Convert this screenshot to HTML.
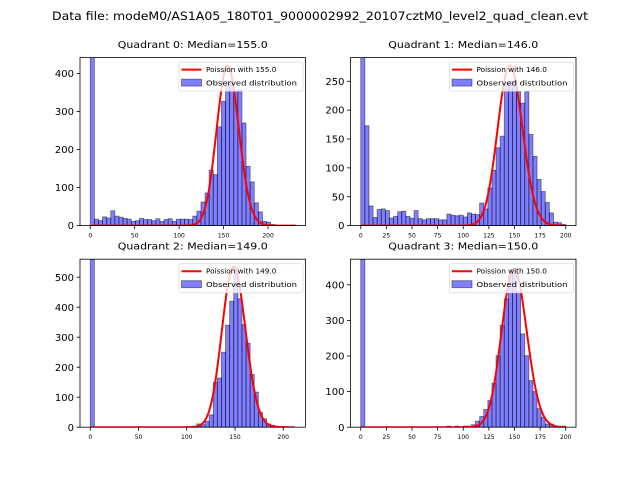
<!DOCTYPE html>
<html><head><meta charset="utf-8"><style>
body{margin:0;background:#fff;}
svg{display:block;font-family:"DejaVu Sans","Liberation Sans",sans-serif;}
</style></head><body>
<svg id="fig" width="640" height="480" xmlns="http://www.w3.org/2000/svg">
<rect width="640" height="480" fill="#fff"/>
<text x="320" y="20" text-anchor="middle" font-size="11.5" textLength="536" lengthAdjust="spacingAndGlyphs">Data file: modeM0/AS1A05_180T01_9000002992_20107cztM0_level2_quad_clean.evt</text>
</svg>
<script>
const quadTitles = ["Quadrant 0: Median=155.0","Quadrant 1: Median=146.0","Quadrant 2: Median=149.0","Quadrant 3: Median=150.0"];
const medians = [155, 146, 149, 150];
const dataMax = [230.6, 200, 212.4, 200];
const yMax = [442, 291, 560, 472];
const yTicks = [[0,100,200,300,400],[0,50,100,150,200,250],[0,100,200,300,400,500],[0,100,200,300,400]];
const xTicks = [[0,50,100,150,200],[0,25,50,75,100,125,150,175,200],[0,50,100,150,200],[0,25,50,75,100,125,150,175,200]];
const curveScale = [13110, 8420, 16370, 13660];
const counts0 = [1500,17,13,23,20,39,25,22,19,17,11,13,19,16,16,13,18,11,16,18,11,17,17,17,16,25,38,62,86,146,134,260,327,380,375,354,357,270,156,115,60,36,11,9,3,1,0,0,0,1];
const counts1 = [1000,173,34,14,28,29,26,13,16,24,25,16,13,26,12,10,12,12,12,10,10,20,18,17,18,15,22,20,19,39,29,65,96,135,155,245,250,250,232,212,232,158,120,80,59,40,22,6,5,2];
const counts2 = [1500,0,0,0,0,0,0,0,0,0,0,0,0,0,0,0,0,0,0,0,0,0,0,0,0,0,11,8,20,41,150,164,250,340,420,530,428,342,280,176,117,50,28,11,6,3,2,0,0,0];
const counts3 = [1500,0,0,0,0,0,0,0,0,0,0,0,0,0,0,0,0,0,0,0,0,3,0,3,0,3,3,7,17,30,50,75,124,201,286,361,428,440,382,262,201,131,100,52,28,9,9,3,0,3];
const allCounts = [counts0, counts1, counts2, counts3];

const NS = "http://www.w3.org/2000/svg";
const fig = document.getElementById('fig');
function mk(tag, attrs, parent){
  const e = document.createElementNS(NS, tag);
  for (const k in attrs) e.setAttribute(k, attrs[k]);
  (parent||fig).appendChild(e); return e;
}
function logPmf(k, lam){
  let lf = 0; for (let i=2;i<=k;i++) lf += Math.log(i);
  return k*Math.log(lam) - lam - lf;
}
const AW = 225.5, AH = 168;
const origins = [[80,57.6],[350.5,57.6],[80,259.2],[350.5,259.2]];
for (let q=0;q<4;q++){
  const [L,T] = origins[q];
  const g = mk('g', {});
  
  
  const span = dataMax[q]*1.1;
  const xs = v => L + (v + dataMax[q]*0.05) * AW / span;
  const ys = v => T + AH - v * AH / yMax[q];
  const clipId = 'clip'+q;
  const cp = mk('clipPath', {id: clipId}, g);
  mk('rect', {x:L, y:T, width:AW, height:AH}, cp);
  const plot = mk('g', {'clip-path': 'url(#'+clipId+')'}, g);
  const c = allCounts[q];
  const bw = dataMax[q] / c.length;
  for (let i=0;i<c.length;i++){
    if (c[i] <= 0) continue;
    const r = mk('rect', {x: xs(i*bw), y: ys(c[i]), width: xs((i+1)*bw)-xs(i*bw), height: ys(0)-ys(c[i]), fill:'rgba(0,0,255,0.5)', stroke:'rgba(0,0,0,0.5)', 'stroke-width':0.8}, plot);
    
    
  }
  let pts = [];
  for (let k=0;k<=Math.round(dataMax[q]);k++){
    pts.push(xs(k).toFixed(2)+','+ys(curveScale[q]*Math.exp(logPmf(k, medians[q]))).toFixed(2));
  }
  const pl = mk('polyline', {points: pts.join(' '), fill:'none', stroke:'#ff0000', 'stroke-width':2}, plot);
  
  
  const fr = mk('rect', {x:L, y:T, width:AW, height:AH, fill:'none', stroke:'#000', 'stroke-width':0.8}, g);
  
  
  for (const t of yTicks[q]){
    mk('line', {x1:L-3.5, x2:L, y1:ys(t), y2:ys(t), stroke:'#000', 'stroke-width':0.8}, g);
    const tx = mk('text', {x:L-6, y:ys(t)+3.6, 'text-anchor':'end', 'font-size':10}, g);
    tx.textContent = t;
    
    
  }
  for (const t of xTicks[q]){
    mk('line', {x1:xs(t), x2:xs(t), y1:T+AH, y2:T+AH+3.5, stroke:'#000', 'stroke-width':0.8}, g);
    const tx = mk('text', {x:xs(t), y:T+AH+12, 'text-anchor':'middle', 'font-size':6}, g);
    tx.textContent = t;
    
    
  }
  const ti = mk('text', {x:L+AW/2, y:T-9.5, 'text-anchor':'middle', 'font-size':9.5, textLength:150, lengthAdjust:'spacingAndGlyphs'}, g);
  ti.textContent = quadTitles[q];
  
  
  // legend
  const lg = mk('g', {}, g);
  
  
  const lw = 124, lx = L+AW-lw-2.5, ly = T+4.5;
  mk('rect', {x:lx, y:ly, width:lw, height:29, fill:'rgba(255,255,255,0.8)', stroke:'#ddd', 'stroke-width':0.8, rx:2}, lg);
  mk('line', {x1:lx+2.5, x2:lx+22.5, y1:ly+7.5, y2:ly+7.5, stroke:'#ff0000', 'stroke-width':2}, lg);
  const t1 = mk('text', {x:lx+27, y:ly+10, 'font-size':7.3}, lg);
  t1.textContent = 'Poission with ' + medians[q].toFixed(1);
  
  
  mk('rect', {x:lx+2.5, y:ly+17, width:20, height:7, fill:'rgba(0,0,255,0.5)', stroke:'rgba(0,0,0,0.5)', 'stroke-width':0.8}, lg);
  const t2 = mk('text', {x:lx+27, y:ly+23.5, 'font-size':7.3, textLength:91, lengthAdjust:'spacingAndGlyphs'}, lg);
  t2.textContent = 'Observed distribution';
  
  
}
</script>
</body></html>
